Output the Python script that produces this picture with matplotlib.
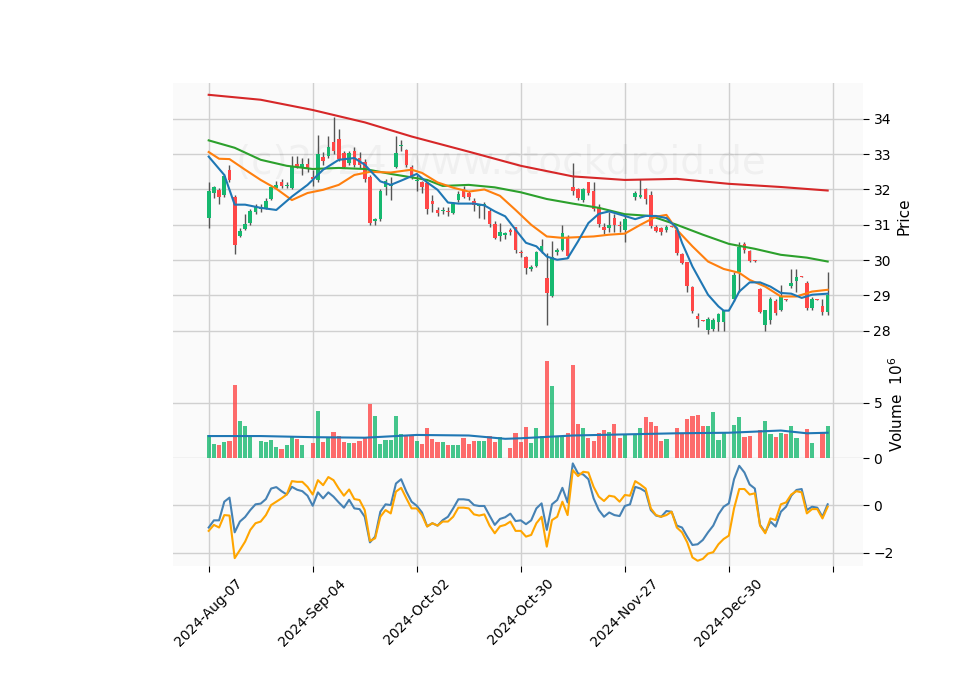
import numpy as np
import matplotlib
matplotlib.use("Agg")
import matplotlib.pyplot as plt

# candles: open, close, high, low (nan = missing day)
nan = np.nan
opens = [31.2, 31.9, 31.98, 31.85, 32.55, 31.8, 30.69, 30.89, 31.06, 31.37,
         31.45, 31.48, 31.73, 32.05, 32.2, 32.1, 32.05, 32.73, 32.64, 32.73,
         32.36, 32.27, 32.92, 32.95, 33.35, 33.43, 33.04, 32.75, 33.1, 32.9,
         32.78, 32.36, 31.1, 31.17, 32.08, 32.1, 32.64, 33.23, 33.12, 32.64,
         32.25, 32.2, 32.19, 31.68, 31.42, 31.4, 31.4, 31.34, 31.7, 32.0,
         31.9, 31.68, 31.52, 31.55, 31.4, 31.03, 30.68, 30.72, 30.85, 30.94,
         30.23, 30.1, 29.75, 29.84, 30.25, 29.5, 28.99, 30.22, 30.3, 30.63,
         32.07, 32.0, 31.7, 32.2, 31.96, 31.5, 30.95, 30.9, 31.2, 31.0,
         30.86, nan, 31.8, 31.8, 32.0, 31.85, 30.95, 30.9, 30.85, 30.96,
         30.86, 30.18, 29.95, 29.25, 28.42, 28.3, 28.03, 28.05, 28.25, 28.25,
         nan, 28.9, 29.67, 30.45, 30.27, 29.99, 29.19, 28.17, 28.3, 28.85,
         28.59, 28.9, 29.27, 29.42, 29.54, 29.36, 28.65, 28.89, 28.7, 28.54]
closes = [31.95, 32.07, 31.8, 32.39, 32.27, 30.43, 30.83, 31.03, 31.39, 31.5,
          31.5, 31.68, 32.07, 32.12, 32.1, 32.14, 32.64, 32.64, 32.73, 32.6,
          32.3, 33.0, 32.8, 33.2, 33.1, 32.87, 32.64, 33.04, 32.7, 32.7,
          32.3, 31.06, 31.15, 31.96, 32.25, 32.14, 33.04, 33.25, 32.7, 32.33,
          32.27, 32.08, 31.45, 31.6, 31.33, 31.42, 31.37, 31.6, 31.88, 31.8,
          31.78, 31.57, 31.55, 31.6, 31.03, 30.63, 30.8, 30.76, 30.79, 30.3,
          30.2, 29.78, 29.8, 30.24, 30.4, 29.07, 30.1, 30.3, 30.77, 30.12,
          31.96, 31.75, 32.0, 31.9, 31.45, 31.03, 30.85, 31.0, 30.98, 30.97,
          31.17, nan, 31.9, 31.85, 31.74, 30.97, 30.82, 30.8, 30.95, 30.94,
          30.2, 29.92, 29.27, 28.57, 28.33, 28.29, 28.34, 28.3, 28.48, 28.6,
          nan, 29.58, 30.38, 30.3, 29.98, 29.97, 28.54, 28.59, 28.9, 28.5,
          28.99, 28.87, 29.36, 29.53, 29.53, 28.65, 28.9, 28.88, 28.54, 29.0]
highs = [32.2, 32.1, 32.05, 32.45, 32.7, 31.85, 30.9, 31.3, 31.45, 31.6,
         31.6, 31.75, 32.1, 32.25, 32.3, 32.2, 32.95, 32.95, 32.9, 32.9,
         32.55, 33.55, 33.05, 33.5, 34.05, 33.7, 33.1, 33.1, 33.2, 33.05,
         32.85, 32.4, 31.2, 32.0, 32.3, 32.35, 33.5, 33.4, 33.15, 32.7,
         32.4, 32.25, 32.2, 31.85, 31.5, 31.5, 31.5, 31.65, 31.95, 32.1,
         31.95, 31.75, 31.6, 31.65, 31.45, 31.1, 31.05, 30.8, 30.9, 30.95,
         30.3, 30.12, 29.85, 30.25, 30.6, 30.2, 30.55, 30.35, 31.0, 30.7,
         32.75, 32.05, 32.05, 32.2, 32.2, 31.6, 31.05, 31.35, 31.3, 31.1,
         31.3, nan, 31.95, 32.3, 32.05, 31.95, 31.0, 30.95, 31.0, 30.97,
         30.9, 30.2, 29.96, 29.26, 28.5, 28.31, 28.4, 28.35, 28.5, 28.6,
         nan, 29.65, 30.5, 30.5, 30.3, 30.0, 29.2, 28.6, 28.95, 28.9,
         29.3, 28.9, 29.75, 29.75, 29.55, 29.4, 28.95, 28.9, 28.9, 29.67]
lows = [30.9, 31.75, 31.6, 31.8, 32.2, 30.16, 30.65, 30.85, 31.0, 31.3,
        31.35, 31.45, 31.7, 32.0, 32.05, 32.05, 32.0, 32.6, 32.4, 32.5,
        32.1, 32.2, 32.7, 32.9, 33.0, 32.8, 32.6, 32.7, 32.65, 32.6,
        32.2, 31.0, 31.0, 31.1, 31.85, 31.7, 32.6, 33.1, 32.65, 32.3,
        31.95, 31.9, 31.3, 31.35, 31.25, 31.3, 31.25, 31.3, 31.65, 31.75,
        31.7, 31.4, 31.2, 31.15, 30.95, 30.6, 30.55, 30.6, 30.7, 30.2,
        30.1, 29.6, 29.7, 29.8, 30.2, 28.17, 28.95, 30.15, 30.25, 30.05,
        31.85, 31.7, 31.65, 31.85, 31.4, 30.95, 30.75, 30.8, 30.8, 30.8,
        30.5, nan, 31.7, 31.75, 31.6, 30.9, 30.8, 30.7, 30.8, 30.93,
        30.15, 29.9, 29.1, 28.5, 28.1, 28.28, 27.9, 28.0, 28.0, 28.0,
        nan, 28.85, 29.1, 30.2, 29.95, 29.96, 28.5, 28.0, 28.2, 28.45,
        28.55, 28.85, 29.2, 29.1, 29.52, 28.6, 28.6, 28.87, 28.45, 28.45]

# volume in millions
volumes = [2.1, 1.27, 1.15, 1.45, 1.55, 6.6, 3.4, 2.9, 2.0, nan,
           1.55, 1.45, 1.64, 1.0, 0.85, 1.18, 2.0, 1.73, 1.18, nan,
           1.36, 4.27, 1.45, 1.79, 2.36, 2.0, 1.45, 1.36, 1.36, 1.55,
           1.88, 4.9, 3.8, 1.27, 1.64, 1.6, 3.8, 2.18, 2.0, 2.0,
           1.55, 1.27, 2.7, 1.73, 1.45, 1.45, 1.18, 1.18, 1.18, 1.82,
           1.27, 1.55, 1.55, 1.55, 2.0, 1.45, 1.88, nan, 0.9, 2.27,
           1.45, 2.8, 1.36, 2.73, 2.0, 8.8, 6.55, 2.0, 2.0, 2.27,
           8.45, 3.1, 2.73, 1.82, 1.55, 2.27, 2.55, 2.36, 3.1, 1.82,
           2.18, nan, 2.09, 2.73, 3.7, 3.27, 2.9, 1.55, 1.73, nan,
           2.73, 2.18, 3.55, 3.8, 3.9, 2.9, 2.9, 4.2, 1.64, 2.27,
           nan, 3.0, 3.73, 1.9, 2.0, nan, 2.55, 3.36, 2.18, 1.9,
           2.27, 2.18, 2.9, 1.82, nan, 2.64, 1.36, nan, 2.36, 2.9]
vol_avg_idx = [0, 10, 20, 30, 40, 50, 57, 60, 70, 80, 90, 100, 110, 115, 119]
vol_avg = [2.0, 2.0, 1.9, 1.85, 2.1, 2.05, 1.75, 1.8, 2.05, 2.15, 2.25, 2.3, 2.5, 2.25, 2.3]

# moving averages sampled from the chart (bar index, price)
ma_red_idx = [0, 10, 20, 30, 39, 50, 60, 70, 80, 90, 100, 110, 119]
ma_red = [34.68, 34.54, 34.25, 33.9, 33.5, 33.07, 32.67, 32.37, 32.27, 32.3, 32.16, 32.07, 31.97]
ma_green_idx = [0, 5, 10, 15, 20, 25, 30, 35, 42, 45, 50, 55, 60, 65, 70, 75, 80, 85, 90, 95, 100, 105, 110, 115, 119]
ma_green = [33.39, 33.18, 32.84, 32.67, 32.58, 32.61, 32.58, 32.44, 32.27, 32.1, 32.13, 32.06, 31.92,
            31.73, 31.6, 31.48, 31.3, 31.25, 31.0, 30.72, 30.46, 30.32, 30.15, 30.07, 29.96]
ma_orange_idx = [0, 2, 4, 7, 10, 13, 16, 19, 22, 25, 28, 31, 35, 39, 41, 44, 47, 50, 53, 56, 59, 62,
                 65, 68, 71, 74, 77, 80, 83, 86, 88, 90, 93, 96, 99, 102, 104, 107, 110, 113, 116, 119]
ma_orange = [33.06, 32.87, 32.86, 32.56, 32.27, 32.02, 31.7, 31.9, 31.99, 32.13, 32.41, 32.5, 32.48,
             32.56, 32.47, 32.2, 32.05, 31.94, 32.0, 31.82, 31.42, 31.0, 30.67, 30.63, 30.65, 30.67,
             30.72, 30.75, 31.0, 31.23, 31.28, 30.86, 30.39, 29.96, 29.75, 29.64, 29.44, 29.25,
             28.97, 28.97, 29.11, 29.16]
ma_blue_idx = [0, 3, 5, 7, 10, 13, 16, 19, 22, 25, 28, 30, 33, 35, 37, 40, 42, 44, 46, 48, 51, 53,
               55, 57, 59, 61, 63, 65, 67, 69, 71, 73, 75, 77, 80, 82, 84, 86, 88, 90, 91, 93, 96,
               98, 99, 100, 101, 102, 104, 106, 108, 110, 112, 114, 116, 119]
ma_blue = [32.93, 32.41, 31.57, 31.57, 31.48, 31.42, 31.8, 32.13, 32.56, 32.84, 32.89, 32.7, 32.23,
           32.13, 32.25, 32.44, 32.2, 31.99, 31.63, 31.6, 31.6, 31.55, 31.38, 31.24, 30.86, 30.49,
           30.39, 30.1, 30.01, 30.05, 30.53, 31.05, 31.31, 31.38, 31.25, 31.16, 31.25, 31.25, 31.19,
           30.91, 30.49, 29.82, 29.02, 28.69, 28.57, 28.57, 28.83, 29.11, 29.37, 29.37, 29.25,
           29.07, 29.05, 28.93, 29.02, 29.05]

# MACD-style oscillator lines
osc_blue = [-0.94, -0.64, -0.64, 0.14, 0.31, -1.14, -0.69, -0.5, -0.21, 0.03,
            0.06, 0.25, 0.69, 0.75, 0.58, 0.44, 0.76, 0.64, 0.58, 0.39,
            -0.03, 0.53, 0.28, 0.53, 0.35, 0.11, -0.11, 0.22, -0.14, -0.17,
            -0.49, -1.56, -1.32, -0.28, 0.03, 0.0, 0.9, 1.08, 0.56, 0.14,
            -0.03, -0.31, -0.89, -0.76, -0.86, -0.63, -0.49, -0.14, 0.24, 0.24,
            0.21, 0.0, -0.04, -0.04, -0.44, -0.83, -0.58, -0.51, -0.36, -0.67,
            -0.64, -0.8, -0.64, -0.14, 0.07, -1.04, 0.03, 0.21, 0.72, 0.11,
            1.74, 1.32, 1.28, 1.08, 0.28, -0.21, -0.49, -0.31, -0.42, -0.46,
            -0.04, 0.03, 0.76, 0.69, 0.56, -0.21, -0.44, -0.49, -0.25, -0.28,
            -0.86, -0.94, -1.32, -1.67, -1.64, -1.46, -1.14, -0.86, -0.39, -0.07,
            0.07, 1.08, 1.64, 1.36, 0.86, 0.69, -0.83, -1.14, -0.69, -0.9,
            -0.28, -0.07, 0.39, 0.63, 0.67, -0.21, -0.07, -0.11, -0.49, 0.03]
osc_orange = [-1.08, -0.83, -0.94, -0.42, -0.44, -2.22, -1.88, -1.53, -1.04, -0.76,
              -0.69, -0.42, 0.0, 0.14, 0.28, 0.44, 1.0, 0.97, 0.97, 0.76,
              0.44, 1.04, 0.83, 1.17, 1.04, 0.69, 0.39, 0.65, 0.25, 0.21,
              -0.21, -1.5, -1.39, -0.49, -0.21, -0.35, 0.56, 0.72, 0.28, -0.14,
              -0.14, -0.42, -0.9, -0.76, -0.86, -0.69, -0.69, -0.49, -0.11, -0.11,
              -0.14, -0.39, -0.44, -0.39, -0.86, -1.18, -0.89, -0.83, -0.69, -1.08,
              -1.08, -1.32, -1.25, -0.76, -0.49, -1.74, -0.63, -0.49, 0.14, -0.42,
              1.46, 1.21, 1.39, 1.36, 0.76, 0.35, 0.17, 0.39, 0.35, 0.14,
              0.42, 0.39, 1.0, 0.86, 0.69, -0.14, -0.42, -0.49, -0.42, -0.28,
              -0.94, -1.14, -1.56, -2.19, -2.33, -2.25, -2.03, -1.97, -1.64, -1.42,
              -1.28, -0.14, 0.67, 0.67, 0.44, 0.49, -0.86, -1.18, -0.56, -0.63,
              0.03, 0.11, 0.44, 0.58, 0.53, -0.35, -0.17, -0.17, -0.56, -0.07]

tick_pos = [0, 20, 40, 60, 80, 100, 120]
tick_labels = ['2024-Aug-07', '2024-Sep-04', '2024-Oct-02', '2024-Oct-30',
               '2024-Nov-27', '2024-Dec-30', '']

UP = '#16b86f'
DOWN = '#ff4747'
BG = '#fafafa'
GRID = '#d0d0d0'

o = np.array(opens)
c = np.array(closes)
h = np.array(highs)
l = np.array(lows)
v = np.array(volumes)
x = np.arange(len(o))
up = c >= o

fig = plt.figure(figsize=(9.6, 6.9), dpi=100)
L, W = 0.180, 0.719
ax_p = fig.add_axes([L, 0.493, W, 0.387])
ax_v = fig.add_axes([L, 0.336, W, 0.157], sharex=ax_p)
ax_m = fig.add_axes([L, 0.180, W, 0.156], sharex=ax_p)

for ax in (ax_p, ax_v, ax_m):
    ax.set_facecolor(BG)
    for s in ax.spines.values():
        s.set_visible(False)
    ax.grid(True, color=GRID, linewidth=1)
    ax.set_axisbelow(True)
    ax.yaxis.tick_right()
    ax.yaxis.set_label_position('right')
    ax.tick_params(axis='y', length=4, labelsize=10)

# candles
cols = np.where(up, UP, DOWN)
ax_p.vlines(x, l, h, color='#555555', linewidth=1, zorder=2)
body_b = np.minimum(o, c)
body_h = np.maximum(np.abs(c - o), 0.02)
ax_p.bar(x, body_h, bottom=body_b, width=0.7, color=cols, zorder=3)

ax_p.plot(ma_red_idx, ma_red, color='#d62728', linewidth=1.5, zorder=4)
ax_p.plot(ma_green_idx, ma_green, color='#2ca02c', linewidth=1.5, zorder=4)
ax_p.plot(ma_orange_idx, ma_orange, color='#ff7f0e', linewidth=1.5, zorder=4)
ax_p.plot(ma_blue_idx, ma_blue, color='#1f77b4', linewidth=1.5, zorder=4)
ax_p.set_ylim(27.46, 35.02)
ax_p.set_yticks([28, 29, 30, 31, 32, 33, 34])
ax_p.set_ylabel('Price', fontsize=11)
ax_p.text(0.475, 0.70, '(c)2024 www.stockdroid.de', transform=ax_p.transAxes,
          ha='center', va='center', fontsize=28, color='#000000', alpha=0.04, zorder=1)
plt.setp(ax_p.get_xticklabels(), visible=False)
ax_p.tick_params(axis='x', length=0)

# volume
ax_v.bar(x, v, width=0.8, color=cols, alpha=0.8, zorder=3)
ax_v.plot(vol_avg_idx, vol_avg, color='#1f77b4', linewidth=1.5, zorder=4)
ax_v.set_ylim(0, 9.8)
ax_v.set_yticks([0, 5])
ax_v.set_ylabel('Volume  $10^6$', fontsize=11)
plt.setp(ax_v.get_xticklabels(), visible=False)
ax_v.tick_params(axis='x', length=0)

# oscillator
ax_m.plot(x, osc_blue, color='#4682b4', linewidth=1.5)
ax_m.plot(x, osc_orange, color='#ffa500', linewidth=1.5)
ax_m.set_ylim(-2.54, 1.96)
ax_m.set_yticks([-2, 0])
ax_m.set_xticks(tick_pos)
ax_m.set_xticklabels(tick_labels, rotation=45, fontsize=10)
ax_m.tick_params(axis='x', length=4)
ax_m.set_xlim(-6.9, 125.8)

fig.savefig('out.png', dpi=100, facecolor='white')
